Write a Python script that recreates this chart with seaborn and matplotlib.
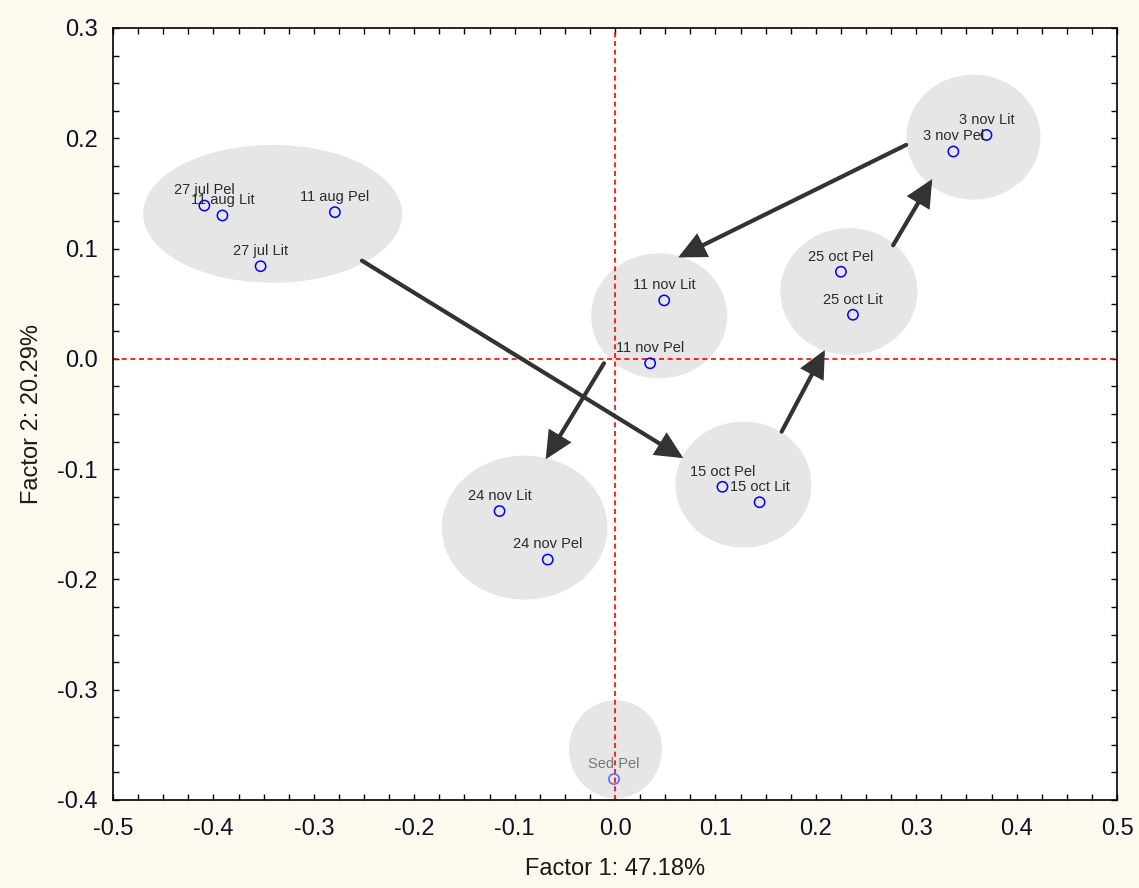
import matplotlib
matplotlib.use("Agg")
import matplotlib.pyplot as plt
from matplotlib.patches import Ellipse
from matplotlib.ticker import MultipleLocator
import seaborn as sns
import pandas as pd

# ---- data ----
labels = ["27 jul Pel", "11 aug Lit", "11 aug Pel", "27 jul Lit",
          "3 nov Lit", "3 nov Pel", "25 oct Pel", "25 oct Lit",
          "11 nov Lit", "11 nov Pel", "15 oct Pel", "15 oct Lit",
          "24 nov Lit", "24 nov Pel", "Sed Pel"]
factor1 = [-0.409, -0.391, -0.279, -0.353,
           0.370, 0.337, 0.225, 0.237,
           0.049, 0.035, 0.107, 0.144,
           -0.115, -0.067, -0.001]
factor2 = [0.139, 0.130, 0.133, 0.084,
           0.203, 0.188, 0.079, 0.040,
           0.053, -0.004, -0.116, -0.130,
           -0.138, -0.182, -0.381]
group = ["main"] * 14 + ["sed"]

# group ellipses: center x, center y, width, height
ell_cx = [-0.341, 0.357, 0.233, 0.044, 0.128, -0.090, 0.0005]
ell_cy = [0.1315, 0.201, 0.061, 0.039, -0.114, -0.153, -0.354]
ell_w = [0.258, 0.1335, 0.1365, 0.1355, 0.1355, 0.165, 0.0926]
ell_h = [0.125, 0.1133, 0.115, 0.1133, 0.1142, 0.1306, 0.0889]

# temporal arrows: start -> end
arr_x0 = [-0.252, 0.166, 0.277, 0.290, -0.011]
arr_y0 = [0.089, -0.066, 0.103, 0.194, -0.004]
arr_x1 = [0.068, 0.209, 0.316, 0.063, -0.069]
arr_y1 = [-0.090, 0.008, 0.163, 0.092, -0.091]

xticks = [-0.5, -0.4, -0.3, -0.2, -0.1, 0.0, 0.1, 0.2, 0.3, 0.4, 0.5]
yticks = [-0.4, -0.3, -0.2, -0.1, 0.0, 0.1, 0.2, 0.3]
xlabel = "Factor 1: 47.18%"
ylabel = "Factor 2: 20.29%"

# ---- style ----
sns.set_style("white")
plt.rcParams["font.family"] = ["Liberation Sans", "DejaVu Sans"]

bg = "#FCF9EF"
fig = plt.figure(figsize=(11.39, 8.88), dpi=100, facecolor=bg)
ax = fig.add_axes([113 / 1139, 88 / 888, 1004 / 1139, 772 / 888])
ax.set_facecolor("white")

# ellipses
for cx, cy, w, h in zip(ell_cx, ell_cy, ell_w, ell_h):
    ax.add_patch(Ellipse((cx, cy), w, h, facecolor="#E6E6E6",
                         edgecolor="none", zorder=1))

# reference lines
ax.axhline(0, color="#FF0000", lw=1.2, ls=(0, (3, 2.2)), zorder=2)
ax.axvline(0, color="#FF0000", lw=1.2, ls=(0, (3, 2.2)), zorder=2)

# arrows
for x0, y0, x1, y1 in zip(arr_x0, arr_y0, arr_x1, arr_y1):
    ax.annotate("", xy=(x1, y1), xytext=(x0, y0),
                arrowprops=dict(arrowstyle="-|>,head_length=1.5,head_width=0.72",
                                mutation_scale=10, lw=3, color="#333333",
                                shrinkA=0, shrinkB=0, joinstyle="miter"),
                zorder=3)

df = pd.DataFrame({"f1": factor1, "f2": factor2, "label": labels, "group": group})
sns.scatterplot(data=df, x="f1", y="f2", hue="group",
                palette={"main": "#0000FF", "sed": "#5A5AFF"},
                marker="o", s=55, linewidth=1.1,
                legend=False, ax=ax, zorder=4)
# make markers hollow
coll = ax.collections[-1]
coll.set_facecolor("none")
coll.set_edgecolor(["#0000FF"] * 14 + ["#6060FF"])

for lx, ly, lab, g in zip(factor1, factor2, labels, group):
    ax.annotate(lab, (lx, ly), xytext=(0, 8), textcoords="offset points",
                ha="center", va="baseline", fontsize=10.5,
                color="#777777" if g == "sed" else "#2B2B2B", zorder=5)

ax.set_xlim(-0.5, 0.5)
ax.set_ylim(-0.4, 0.3)
ax.set_xticks(xticks)
ax.set_yticks(yticks)
ax.set_xticklabels([f"{v:.1f}" for v in xticks])
ax.set_yticklabels([f"{v:.1f}" for v in yticks])
ax.xaxis.set_minor_locator(MultipleLocator(0.025))
ax.yaxis.set_minor_locator(MultipleLocator(0.025))
ax.tick_params(which="both", direction="in", top=True, right=True,
               bottom=True, left=True, length=4, width=1, color="black")
ax.tick_params(which="major", labelsize=17, labelcolor="#111122")
ax.tick_params(axis="x", which="major", pad=13)
ax.tick_params(axis="y", which="major", pad=11)
for sp in ax.spines.values():
    sp.set_color("black")
    sp.set_linewidth(1.2)

ax.set_xlabel(xlabel, fontsize=17, color="#1A1A1A", labelpad=13)
ax.set_ylabel(ylabel, fontsize=17, color="#1A1A1A", labelpad=10)

fig.savefig("out.png", dpi=100, facecolor=bg)
